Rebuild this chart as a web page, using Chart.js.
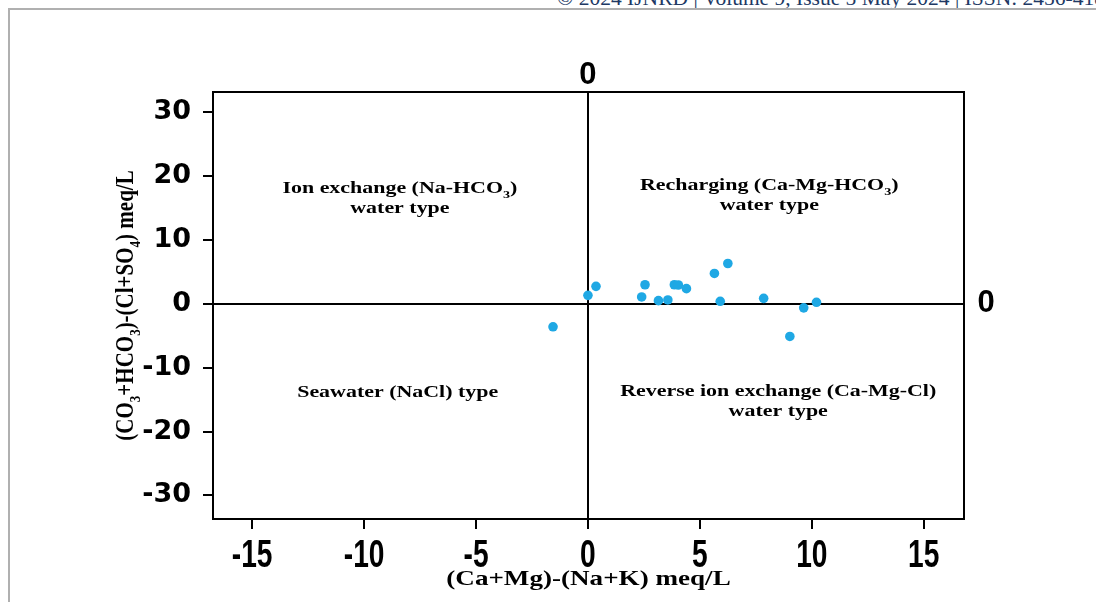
<!DOCTYPE html>
<html>
<head>
<meta charset="utf-8">
<script src="https://cdn.jsdelivr.net/npm/chart.js@4"></script>
<style>
  html, body { margin: 0; padding: 0; background: #fff; overflow: hidden; }
  #wrap { position: relative; width: 1096px; height: 602px; }
  #chart { position: absolute; left: 0; top: 0; }
  .hdr { position: absolute; left: 557px; top: -12px; font: 21.5px 'Liberation Serif', serif; color: #203864; white-space: nowrap; line-height: 21px; }
  .rule-top { position: absolute; left: 8px; top: 8px; width: 1088px; height: 0; border-top: 2px solid #b0b0b0; }
  .rule-left { position: absolute; left: 8px; top: 8px; width: 0; height: 594px; border-left: 2px solid #b0b0b0; }
</style>
</head>
<body>
<div id="wrap">
  <div class="hdr">© 2024 IJNRD | Volume 9, Issue 5 May 2024 | ISSN: 2456-4184</div>
  <div class="rule-top"></div>
  <div class="rule-left"></div>
  <canvas id="chart" width="1096" height="602"></canvas>
</div>
<script>
// ── Data ─────────────────────────────────────────────────────────────
// (Ca+Mg)-(Na+K) meq/L
const caMgMinusNaK = [0.0, 0.36, 2.55, 2.40, 3.15, 3.57, 3.86, 4.04, 4.40, 5.65, 6.25, 5.91, 7.85, 9.64, 10.21, 9.02, -1.56];
// (CO3+HCO3)-(Cl+SO4) meq/L
const carbMinusClSO4 = [1.34, 2.75, 3.00, 1.09, 0.51, 0.62, 3.00, 2.96, 2.39, 4.77, 6.33, 0.41, 0.87, -0.62, 0.25, -5.10, -3.59];

const xTicks = [-15, -10, -5, 0, 5, 10, 15];
const yTicks = [-30, -20, -10, 0, 10, 20, 30];

// quadrant captions, anchored in data units
const quadLabels = [
  { x: -8.4, y: 16.7, lines: [[['Ion exchange (Na-HCO'], ['3', 1], [')']], [['water type']]] },
  { x: 8.1,  y: 17.2, lines: [[['Recharging (Ca-Mg-HCO'], ['3', 1], [')']], [['water type']]] },
  { x: -8.5, y: -13.7, lines: [[['Seawater (NaCl) type']]] },
  { x: 8.5,  y: -15.1, lines: [[['Reverse ion exchange (Ca-Mg-Cl)']], [['water type']]] },
];

const points = caMgMinusNaK.map((x, i) => ({ x, y: carbMinusClSO4[i] }));

// ── Text helpers ─────────────────────────────────────────────────────
const SERIF = "'Liberation Serif', 'Times New Roman', serif";
const STRETCH = 1.29;

// draw a run of [text, isSub] parts centred on (0,0) in the current transform
function drawRich(ctx, parts, size) {
  const big = `bold ${size}px ${SERIF}`;
  const small = `bold ${Math.round(size * 0.62)}px ${SERIF}`;
  let total = 0;
  parts.forEach(p => { ctx.font = p[1] ? small : big; total += ctx.measureText(p[0]).width; });
  let cx = -total / 2;
  ctx.textAlign = 'left';
  ctx.textBaseline = 'alphabetic';
  parts.forEach(p => {
    ctx.font = p[1] ? small : big;
    ctx.fillText(p[0], cx, p[1] ? size * 0.62 : size * 0.35);
    cx += ctx.measureText(p[0]).width;
  });
}

const decorPlugin = {
  id: 'decor',
  beforeDatasetsDraw(chart) {
    const { ctx, chartArea: a } = chart;
    ctx.save();
    ctx.strokeStyle = '#000';
    ctx.lineWidth = 2;
    ctx.strokeRect(a.left, a.top, a.right - a.left, a.bottom - a.top);
    ctx.restore();
  },
  afterDraw(chart) {
    const { ctx, chartArea: a, scales } = chart;
    const sx = scales.x, sy = scales.y;
    ctx.save();
    ctx.fillStyle = '#000';

    // condensed x tick labels, placed from the x scale's own ticks
    ctx.font = "bold 38px 'Liberation Sans', Arial, sans-serif";
    ctx.textAlign = 'center';
    ctx.textBaseline = 'middle';
    sx.ticks.forEach(t => {
      ctx.save();
      ctx.translate(sx.getPixelForValue(t.value), a.bottom + 38);
      ctx.scale(0.74, 1);
      ctx.fillText(String(t.value), 0, 0);
      ctx.restore();
    });

    // zero markers outside the frame
    ctx.font = "bold 31px 'Liberation Sans', Arial, sans-serif";
    ctx.fillText('0', sx.getPixelForValue(0), a.top - 17);
    ctx.fillText('0', a.right + 22, sy.getPixelForValue(0));

    // quadrant captions
    quadLabels.forEach(q => {
      const px = sx.getPixelForValue(q.x), py = sy.getPixelForValue(q.y);
      const n = q.lines.length;
      q.lines.forEach((ln, i) => {
        ctx.save();
        ctx.translate(px, py + (i - (n - 1) / 2) * 20);
        ctx.scale(STRETCH, 1);
        drawRich(ctx, ln, 17);
        ctx.restore();
      });
    });

    // axis titles
    ctx.save();
    ctx.translate((a.left + a.right) / 2, 578);
    ctx.scale(STRETCH, 1);
    drawRich(ctx, [['(Ca+Mg)-(Na+K) meq/L']], 21);
    ctx.restore();

    ctx.save();
    ctx.translate(124, (a.top + a.bottom) / 2);
    ctx.rotate(-Math.PI / 2);
    ctx.scale(1, 1.2);
    drawRich(ctx, [['(CO'], ['3', 1], ['+HCO'], ['3', 1], [')-(Cl+SO'], ['4', 1], [') meq/L']], 21);
    ctx.restore();

    ctx.restore();
  },
};

const zeroGrid = c => (c.tick && c.tick.value === 0 ? '#000' : 'rgba(0,0,0,0)');

new Chart(document.getElementById('chart').getContext('2d'), {
  type: 'scatter',
  data: {
    datasets: [{
      data: points,
      backgroundColor: '#1fa8e4',
      borderColor: '#1fa8e4',
      pointRadius: 4.8,
      pointHoverRadius: 4.8,
      borderWidth: 0,
    }],
  },
  options: {
    responsive: false,
    animation: false,
    layout: { padding: { top: 92, right: 132, bottom: 0, left: 0 } },
    plugins: { legend: { display: false }, tooltip: { enabled: false } },
    scales: {
      x: {
        type: 'linear',
        min: -16.75,
        max: 16.8,
        afterBuildTicks: s => { s.ticks = xTicks.map(v => ({ value: v })); },
        afterFit: s => { s.height = 83; },
        grid: { color: zeroGrid, tickColor: '#000', lineWidth: 2, tickLength: 10, drawOnChartArea: true },
        border: { display: true, color: '#000', width: 2 },
        // labels are drawn condensed by the decor plugin
        ticks: { color: 'rgba(0,0,0,0)', maxRotation: 0, font: { size: 34, weight: 'bold' } },
      },
      y: {
        type: 'linear',
        min: -33.7,
        max: 33.2,
        afterBuildTicks: s => { s.ticks = yTicks.map(v => ({ value: v })); },
        afterFit: s => { s.width = 213; },
        grid: { color: zeroGrid, tickColor: '#000', lineWidth: 2, tickLength: 10, drawOnChartArea: true },
        border: { display: true, color: '#000', width: 2 },
        ticks: {
          color: '#000',
          padding: 12,
          font: { family: "'DejaVu Sans', sans-serif", weight: 'bold', size: 27 },
        },
      },
    },
  },
  plugins: [decorPlugin],
});
</script>
</body>
</html>
